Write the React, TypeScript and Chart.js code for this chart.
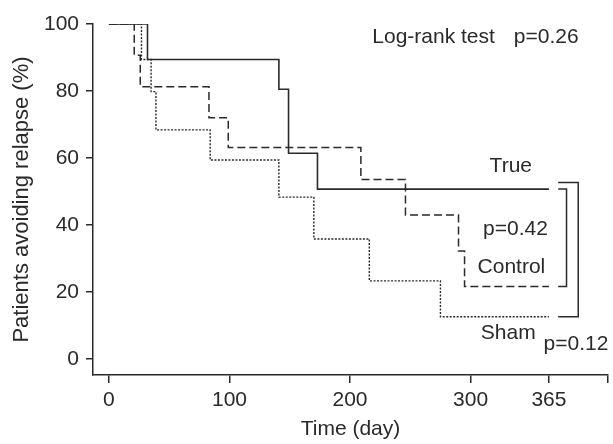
import React, { useEffect, useRef } from 'react';
import { Chart, registerables } from 'chart.js';

Chart.register(...registerables);

// Kaplan-Meier step data (day, % avoiding relapse after that day)
const trueDays = [0, 32, 141, 149, 173, 365];
const trueSurv = [100, 89.4, 80.5, 61.4, 50.7, 50.7];
const controlDays = [0, 21, 26, 83, 99, 209, 246, 290, 295, 365];
const controlSurv = [100, 90.7, 81.3, 72.0, 63.1, 53.6, 43.0, 32.2, 21.6, 21.6];
const shamDays = [0, 27, 35, 39, 84, 141, 170, 216, 275, 365];
const shamSurv = [100, 89.4, 79.8, 68.4, 59.4, 48.3, 35.8, 23.3, 12.6, 12.6];

const xTickValues = [0, 100, 200, 300, 365];
const yTickValues = [0, 20, 40, 60, 80, 100];

const X_MIN = -13.2;
const X_MAX = 414;
const Y_MIN = -4.8;
const Y_MAX = 100;

// annotation texts (data coordinates: day, %), baseline-left anchored
const annotTexts = ['Log-rank test', 'p=0.26', 'True', 'p=0.42', 'Control', 'Sham', 'p=0.12'];
const annotX = [218.5, 335.9, 315.8, 310.4, 305.8, 308.5, 360.5];
const annotY = [94.2, 94.2, 55.9, 37.0, 25.7, 6.0, 2.7];

const INK = '#2a2a2a';
const FONT_FAMILY = '"Liberation Sans", Arial, Helvetica, sans-serif';
const FONT_SIZE = 21;

const annotationPlugin = {
  id: 'kmAnnotations',
  afterDatasetsDraw(chart: any) {
    const { ctx, scales } = chart;
    const xs = scales.x;
    const ys = scales.y;
    ctx.save();
    ctx.fillStyle = INK;
    ctx.font = `${FONT_SIZE}px ${FONT_FAMILY}`;
    ctx.textAlign = 'left';
    ctx.textBaseline = 'alphabetic';
    annotTexts.forEach((t, i) => {
      ctx.fillText(t, xs.getPixelForValue(annotX[i]), ys.getPixelForValue(annotY[i]));
    });

    // brackets comparing groups
    const trueEnd = trueSurv[trueSurv.length - 1];
    const controlEnd = controlSurv[controlSurv.length - 1];
    const shamEnd = shamSurv[shamSurv.length - 1];
    ctx.strokeStyle = INK;
    ctx.lineWidth = 1.5;
    ctx.setLineDash([]);
    const bracket = (x0: number, x1: number, yTop: number, yBot: number) => {
      const px0 = xs.getPixelForValue(x0);
      const px1 = xs.getPixelForValue(x1);
      const pyT = ys.getPixelForValue(yTop);
      const pyB = ys.getPixelForValue(yBot);
      ctx.beginPath();
      ctx.moveTo(px0, pyT);
      ctx.lineTo(px1, pyT);
      ctx.lineTo(px1, pyB);
      ctx.lineTo(px0, pyB);
      ctx.stroke();
    };
    bracket(372.7, 379.6, trueEnd, controlEnd);
    bracket(372.7, 389.3, 52.7, shamEnd);
    ctx.restore();
  },
};

export default function App() {
  const ref = useRef<HTMLCanvasElement>(null);

  useEffect(() => {
    document.body.style.margin = '0';
    const canvas = ref.current;
    if (!canvas) return;
    const font = { family: FONT_FAMILY, size: FONT_SIZE };
    const mk = (days: number[], surv: number[]) => days.map((d, i) => ({ x: d, y: surv[i] }));

    const chart = new Chart(canvas, {
      type: 'line',
      data: {
        datasets: [
          {
            label: 'Sham',
            data: mk(shamDays, shamSurv),
            stepped: true,
            borderColor: INK,
            borderWidth: 1.4,
            borderDash: [2, 1.5],
            pointRadius: 0,
            fill: false,
          },
          {
            label: 'Control',
            data: mk(controlDays, controlSurv),
            stepped: true,
            borderColor: INK,
            borderWidth: 1.5,
            borderDash: [8, 4],
            pointRadius: 0,
            fill: false,
          },
          {
            label: 'True',
            data: mk(trueDays, trueSurv),
            stepped: true,
            borderColor: INK,
            borderWidth: 1.6,
            pointRadius: 0,
            fill: false,
          },
        ],
      },
      options: {
        responsive: false,
        animation: false,
        layout: { padding: { top: 24, right: 3, left: 0, bottom: 0 } },
        plugins: {
          legend: { display: false },
          tooltip: { enabled: false },
        },
        scales: {
          x: {
            type: 'linear',
            min: X_MIN,
            max: X_MAX,
            afterBuildTicks: (s: any) => {
              s.ticks = [...xTickValues, X_MAX].map((v) => ({ value: v }));
            },
            afterFit: (s: any) => {
              s.height = 69;
            },
            ticks: {
              autoSkip: false,
              maxRotation: 0,
              padding: 5,
              color: INK,
              font,
              callback: (v: any) => (xTickValues.includes(Number(v)) ? String(v) : ''),
            },
            grid: {
              drawOnChartArea: false,
              drawTicks: true,
              tickLength: 8,
              color: INK,
              lineWidth: 1.5,
            },
            border: { display: true, color: INK, width: 1.5 },
            title: {
              display: true,
              text: 'Time (day)',
              color: INK,
              font,
              padding: { top: 0, bottom: 2 },
            },
          },
          y: {
            type: 'linear',
            min: Y_MIN,
            max: Y_MAX,
            afterBuildTicks: (s: any) => {
              s.ticks = yTickValues.map((v) => ({ value: v }));
            },
            afterFit: (s: any) => {
              s.width = 93;
            },
            ticks: {
              padding: 7,
              color: INK,
              font,
            },
            grid: {
              drawOnChartArea: false,
              drawTicks: true,
              tickLength: 7,
              color: INK,
              lineWidth: 1.5,
            },
            border: { display: true, color: INK, width: 1.5 },
            title: {
              display: true,
              text: 'Patients avoiding relapse (%)',
              color: INK,
              font: { family: FONT_FAMILY, size: 22 },
              padding: { top: 9, bottom: 0 },
            },
          },
        },
      },
      plugins: [annotationPlugin],
    });
    return () => chart.destroy();
  }, []);

  return (
    <div style={{ width: 613, height: 444 }}>
      <canvas ref={ref} width={613} height={444} style={{ display: 'block' }} />
    </div>
  );
}
